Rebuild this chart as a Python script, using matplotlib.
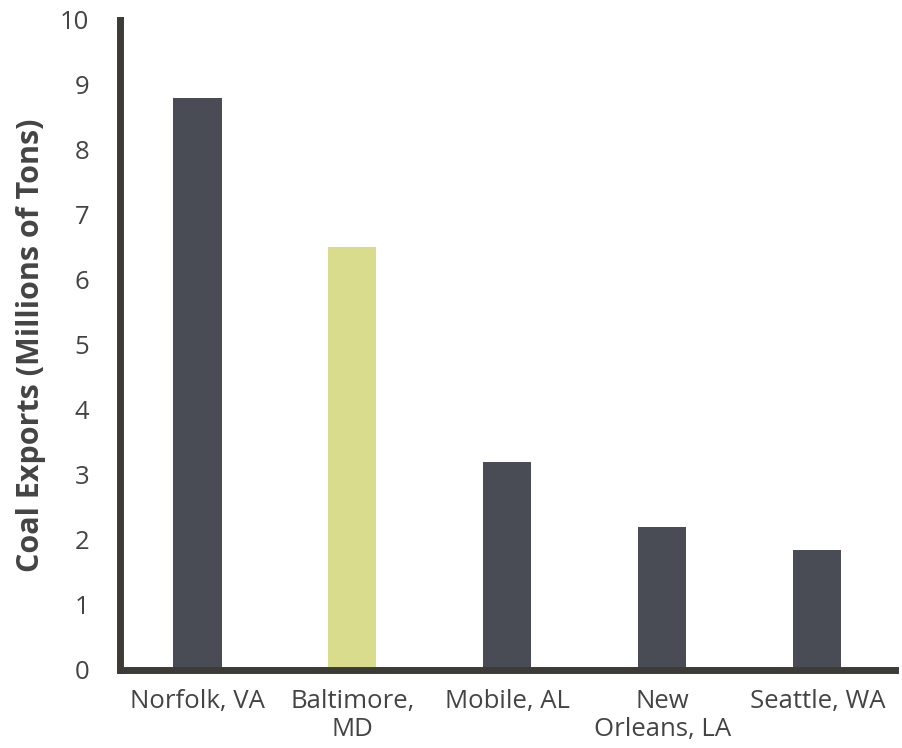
import matplotlib
matplotlib.use("Agg")
import matplotlib.pyplot as plt

# Coal exports by port, millions of tons
ports = ["Norfolk, VA", "Baltimore,\nMD", "Mobile, AL", "New\nOrleans, LA", "Seattle, WA"]
exports = [8.8, 6.5, 3.2, 2.2, 1.85]
bar_colors = ["#494c55", "#d8dc8c", "#494c55", "#494c55", "#494c55"]

plt.rcParams['font.family'] = ['Open Sans', 'DejaVu Sans']

fig = plt.figure(figsize=(9.03, 7.48), dpi=100)
ax = fig.add_axes([0.1329, 0.1043, 0.8581, 0.869])

x = range(len(ports))
ax.bar(x, exports, width=0.31, color=bar_colors, zorder=1)

ax.set_xlim(-0.5, 4.5)
ax.set_ylim(0, 10)
ax.set_yticks(range(0, 11))
ax.set_xticks(list(x))
ax.set_xticklabels(ports, linespacing=1.15)

for side in ["top", "right"]:
    ax.spines[side].set_visible(False)
for side in ["left", "bottom"]:
    ax.spines[side].set_color("#3d3b36")
    ax.spines[side].set_linewidth(5)
    ax.spines[side].set_zorder(3)

ax.tick_params(axis="both", length=0, labelsize=18.5, colors="#444444")
ax.tick_params(axis="y", pad=22)
ax.tick_params(axis="x", pad=14)

ax.set_ylabel("Coal Exports (Millions of Tons)", fontsize=22, fontweight="bold",
              color="#444444", labelpad=10)

fig.savefig("out.png", dpi=100)
